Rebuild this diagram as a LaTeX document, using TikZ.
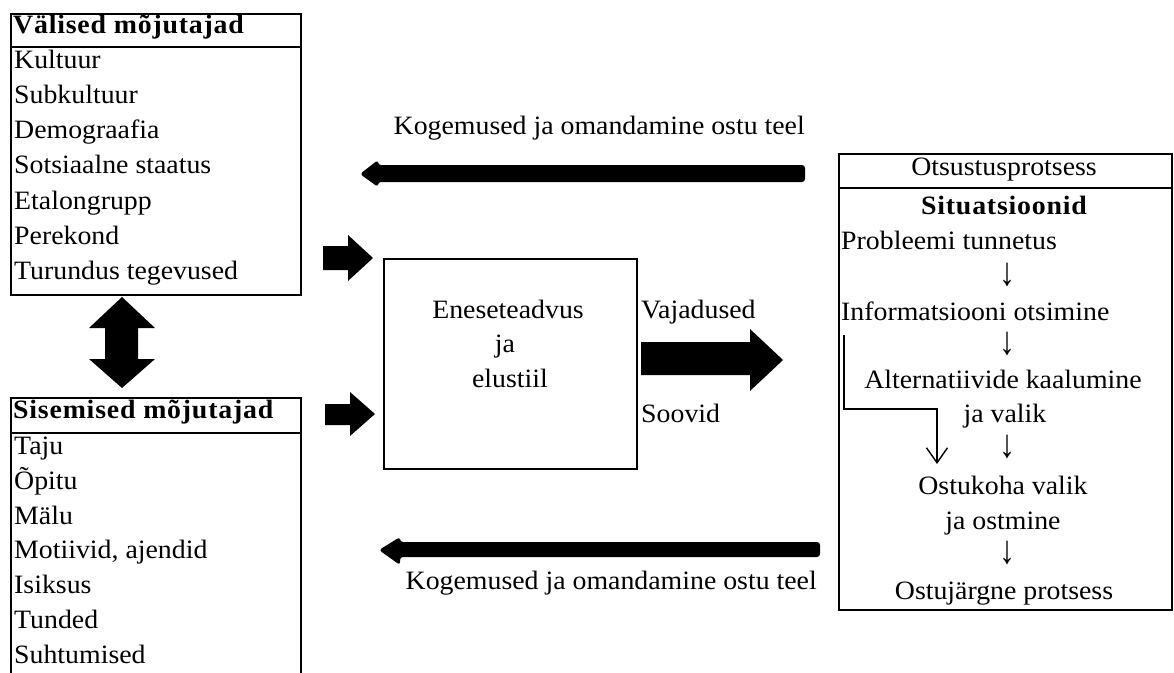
\documentclass[tikz,border=0pt]{standalone}
\usepackage{fontspec}
\setmainfont{Liberation Serif}[FakeStretch=1.05]
\usetikzlibrary{arrows.meta}
\newcommand{\downstep}{\scalebox{1.15}[1.5]{↓}}
\newcommand{\headfont}{\bfseries\addfontfeature{LetterSpace=3}}
\begin{document}
\begin{tikzpicture}[x=1pt,y=-1pt,
  box/.style={draw, line width=1.6pt, inner sep=0pt},
  rule/.style={line width=1.6pt},
  txt/.style={inner sep=0pt, anchor=mid west},
  ctxt/.style={inner sep=0pt, anchor=mid},
  rtxt/.style={inner sep=0pt, anchor=mid east},
  blockarrow/.style={fill=black},
  thinarrow/.style={line width=1.4pt, -{Straight Barb[length=15pt,width=21pt,line width=1.4pt]}},
  every node/.append style={font=\fontsize{26.5}{30}\selectfont}]
\clip (0,0) rectangle (1174,672);
\fill[white] (0,0) rectangle (1174,672);

% external influences
\node[box, anchor=north west, minimum width=290pt, minimum height=281pt] (ext) at (10,13) {};
\draw[rule] (10,47) -- (300,47);
\node[txt] (exthead) at (13,31) {\headfont V\"alised m\~ojutajad};
\foreach \t [count=\i] in {Kultuur, Subkultuur, Demograafia, Sotsiaalne staatus,
    Etalongrupp, Perekond, Turundus tegevused}
  \node[txt] (ext\i) at (14,{47+35.3*\i-16.5}) {\t};

% internal influences (box runs past the lower edge)
\node[box, anchor=north west, minimum width=290pt, minimum height=320pt] (int) at (10,397) {};
\draw[rule] (10,433) -- (300,433);
\node[txt] (inthead) at (13,416) {\headfont Sisemised m\~ojutajad};
\foreach \t [count=\i] in {Taju, \~Opitu, M\"alu, {Motiivid, ajendid}, Isiksus, Tunded, Suhtumised}
  \node[txt] (int\i) at (14,{433+34.9*\i-16}) {\t};

% two-way link between the influence boxes
\fill[blockarrow] (122,297) -- (155,328) -- (138,328) -- (138,359) -- (155,359)
  -- (122,388) -- (89,359) -- (105,359) -- (105,328) -- (89,328) -- cycle;

% inputs into self-concept
\fill[blockarrow] (323,246) -- (348,246) -- (348,235) -- (373,258) -- (348,281)
  -- (348,270) -- (323,270) -- cycle;
\fill[blockarrow] (325,404) -- (350,404) -- (350,392) -- (375,414) -- (350,436)
  -- (350,425) -- (325,425) -- cycle;

% self-concept and lifestyle
\node[box, anchor=north west, minimum width=253pt, minimum height=210pt] (self) at (383,258) {};
\node[ctxt] (self1) at (508,316) {Eneseteadvus};
\node[ctxt] (self2) at (505,350) {ja};
\node[ctxt] (self3) at (510,385) {elustiil};

\node[txt] (needs) at (641,316) {Vajadused};
\node[txt] (wants) at (641,420) {Soovid};
\fill[blockarrow] (641,342) -- (750,342) -- (750,329) -- (783,360) -- (750,391)
  -- (750,375) -- (641,375) -- cycle;

% decision process
\node[box, anchor=north west, minimum width=333pt, minimum height=456pt] (dec) at (838,153) {};
\draw[rule] (838,188) -- (1171,188);
\node[ctxt] (dechead) at (1004,173) {Otsustusprotsess};
\node[ctxt] (sit) at (1004,212) {\headfont Situatsioonid};
\node[txt] (s1) at (841,247) {Probleemi tunnetus};
\node[ctxt] (a1) at (1007,283) {\downstep};
\node[txt] (s2) at (841,318) {Informatsiooni otsimine};
\node[ctxt] (a2) at (1007,352) {\downstep};
\node[ctxt] (s3) at (1003,386) {Alternatiivide kaalumine};
\node[ctxt] (s3b) at (1005,420) {ja valik};
\node[ctxt] (a3) at (1007,455) {\downstep};
\node[ctxt] (s4) at (1003,492) {Ostukoha valik};
\node[ctxt] (s4b) at (1003,527) {ja ostmine};
\node[ctxt] (a4) at (1007,561) {\downstep};
\node[ctxt] (s5) at (1004,597) {Ostuj\"argne protsess};

% shortcut from search straight to the purchase
\coordinate (skipstart) at (844,335);
\coordinate (skipend) at (937,464);
\draw[thinarrow] (skipstart) -- (844,409) -- (937,409) -- (skipend);

% feedback arrows
\node[rtxt] (fbtop) at (805,132) {Kogemused ja omandamine ostu teel};
\fill[blockarrow, rounded corners=3pt] (378,165) -- (805,165) -- (805,182) -- (378,182)
  -- (378,187) -- (360,174) -- (378,160) -- cycle;
\node[rtxt] (fbbot) at (817,587) {Kogemused ja omandamine ostu teel};
\fill[blockarrow, rounded corners=3pt] (400,542) -- (820,542) -- (820,557) -- (400,557)
  -- (400,565) -- (379,550) -- (400,537) -- cycle;
\end{tikzpicture}
\end{document}
